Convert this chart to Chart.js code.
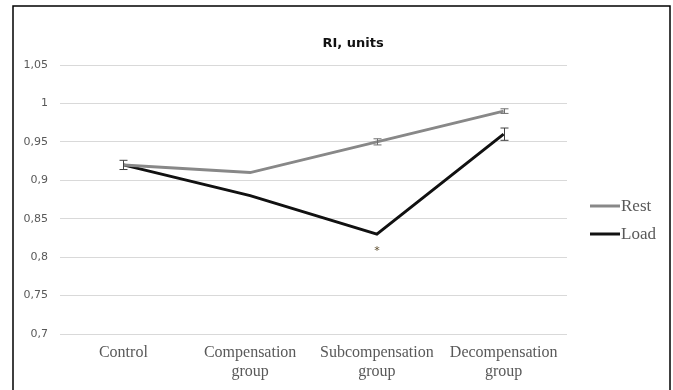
<!DOCTYPE html>
<html>
<head>
  <title>RI, units</title>
  <script src="https://cdn.jsdelivr.net/npm/chart.js"></script>
  <style>
    body { margin: 0; background: #fff; }
    #chartContainer { width: 673px; height: 390px; }
  </style>
</head>
<body>
  <div id="chartContainer">
    <canvas id="riChart" width="673" height="390"></canvas>
  </div>

  <script>
    // Data
    const chartTitle = 'RI, units';
    const categories = ['Control', ['Compensation', 'group'], ['Subcompensation', 'group'], ['Decompensation', 'group']];
    const restValues = [0.92, 0.91, 0.95, 0.99];
    const loadValues = [0.92, 0.88, 0.83, 0.96];
    const restErrors = [0, 0, 0.004, 0.003];
    const loadErrors = [0.006, 0, 0, 0.008];
    // significance marks: category index -> value where the star sits
    const starIndex = [2];
    const starValue = [0.81];
    const yTicks = { min: 0.7, max: 1.05, step: 0.05 };

    // Plugin: frame, title, legend, error bars and the star
    const extras = {
      id: 'extras',
      beforeDraw(chart) {
        const ctx = chart.ctx;
        ctx.save();
        ctx.fillStyle = '#fff';
        ctx.fillRect(0, 0, chart.width, chart.height);
        ctx.strokeStyle = '#000';
        ctx.lineWidth = 1.5;
        ctx.strokeRect(13, 6, 657, 400);
        ctx.restore();
      },
      afterDatasetsDraw(chart) {
        const ctx = chart.ctx;
        const x = chart.scales.x, y = chart.scales.y;

        // error bars
        const sets = [[restValues, restErrors, '#6e6e6e'], [loadValues, loadErrors, '#404040']];
        ctx.save();
        ctx.lineWidth = 1;
        sets.forEach(([vals, errs, col]) => {
          vals.forEach((v, i) => {
            if (!errs[i]) return;
            const px = Math.round(x.getPixelForValue(i)) + 0.5;
            const top = y.getPixelForValue(v + errs[i]);
            const bot = y.getPixelForValue(v - errs[i]);
            ctx.strokeStyle = col;
            ctx.beginPath();
            ctx.moveTo(px, top); ctx.lineTo(px, bot);
            ctx.moveTo(px - 4, top); ctx.lineTo(px + 4, top);
            ctx.moveTo(px - 4, bot); ctx.lineTo(px + 4, bot);
            ctx.stroke();
          });
        });

        // star
        ctx.fillStyle = '#5a4a2a';
        ctx.font = '11px "DejaVu Sans"';
        ctx.textAlign = 'center';
        ctx.textBaseline = 'middle';
        starIndex.forEach((idx, k) => {
          ctx.fillText('*', x.getPixelForValue(idx), y.getPixelForValue(starValue[k]) + 2);
        });

        // title
        ctx.fillStyle = '#111';
        ctx.font = 'bold 13px "DejaVu Sans"';
        ctx.fillText(chartTitle, 353, 44);

        // legend
        ctx.font = '17px "Liberation Serif"';
        ctx.textAlign = 'left';
        chart.data.datasets.forEach((ds, i) => {
          const ly = 206 + i * 28;
          ctx.strokeStyle = ds.borderColor;
          ctx.lineWidth = 3;
          ctx.beginPath();
          ctx.moveTo(590, ly); ctx.lineTo(620, ly);
          ctx.stroke();
          ctx.fillStyle = '#595959';
          ctx.fillText(ds.label, 621, ly + 1);
        });
        ctx.restore();
      }
    };

    const ctx = document.getElementById('riChart').getContext('2d');
    const riChart = new Chart(ctx, {
      type: 'line',
      data: {
        labels: categories,
        datasets: [
          { label: 'Rest', data: restValues, borderColor: '#888888', borderWidth: 3, pointRadius: 0, tension: 0 },
          { label: 'Load', data: loadValues, borderColor: '#111111', borderWidth: 3, pointRadius: 0, tension: 0 }
        ]
      },
      options: {
        responsive: false,
        animation: false,
        layout: { padding: { top: 65, left: 14, right: 106, bottom: 0 } },
        plugins: {
          legend: { display: false },
          title: { display: false },
          tooltip: { enabled: false }
        },
        scales: {
          x: {
            offset: true,
            grid: { display: false, drawTicks: false },
            border: { display: false },
            ticks: { color: '#595959', padding: 9, font: { family: 'Liberation Serif', size: 16 } },
            afterFit(scale) { scale.height = 56; }
          },
          y: {
            min: yTicks.min,
            max: yTicks.max,
            grid: { color: '#d9d9d9', drawTicks: false },
            border: { display: false },
            ticks: {
              stepSize: yTicks.step,
              padding: 12,
              color: '#595959',
              font: { family: 'DejaVu Sans', size: 11 },
              callback: v => Number(v.toFixed(2)).toString().replace('.', ',')
            },
            afterFit(scale) { scale.width = 46; }
          }
        }
      },
      plugins: [extras]
    });
  </script>
</body>
</html>
